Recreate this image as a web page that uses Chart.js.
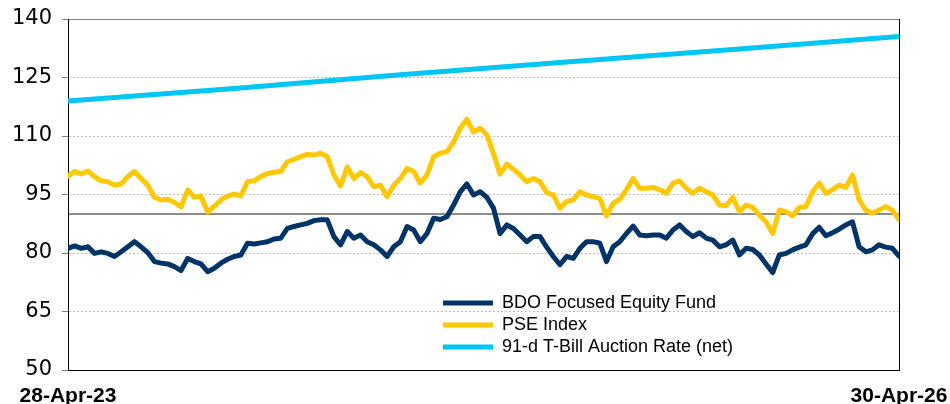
<!DOCTYPE html>
<html>
<head>
<meta charset="utf-8">
<script src="https://cdn.jsdelivr.net/npm/chart.js@4.4.1/dist/chart.umd.min.js"></script>
<style>
  html, body { margin: 0; padding: 0; background: #ffffff; }
  #wrap { width: 950px; height: 404px; }
</style>
</head>
<body>
<div id="wrap"><canvas id="c" width="950" height="404"></canvas></div>
<script>
// ---- data ----
const xTickLabels = ['28-Apr-23', '30-Apr-26'];
const seriesNames = ['BDO Focused Equity Fund', 'PSE Index', '91-d T-Bill Auction Rate (net)'];

const bdoFund = [
  81.2, 81.8, 81.2, 81.6, 79.9, 80.3, 79.9, 79.1, 80.3, 81.6, 82.9, 81.6, 80.1, 77.8, 77.4, 77.2,
  76.5, 75.5, 78.6, 77.8, 77.2, 75.2, 76.1, 77.4, 78.4, 79.1, 79.5, 82.5, 82.3, 82.6, 82.9, 83.6,
  83.8, 86.3, 86.8, 87.2, 87.6, 88.3, 88.5, 88.5, 84.2, 82.1, 85.5, 83.8, 84.6, 82.9, 82.1, 80.8,
  79.1, 81.6, 82.9, 86.8, 85.9, 82.9, 85.0, 88.9, 88.6, 89.3, 92.3, 95.7, 97.7, 94.9, 95.7,
  94.3, 91.5, 85.0, 87.2, 86.3, 84.6, 82.9, 84.2, 84.2, 81.5, 79.1, 77.0, 79.1, 78.6, 81.2, 82.9,
  82.9, 82.5, 77.8, 81.6, 82.9, 85.0, 86.9, 84.6, 84.4, 84.6, 84.6, 83.8, 85.9, 87.2, 85.5, 84.2,
  85.2, 83.8, 83.3, 81.6, 82.1, 83.3, 79.5, 81.2, 80.9, 79.5, 77.2, 75.0, 79.5, 79.9, 80.8, 81.5,
  82.1, 84.9, 86.6, 84.4, 85.2, 86.1, 87.2, 88.0, 81.6, 80.3, 80.8, 82.1, 81.5, 81.2, 79.2
];

const pseIndex = [
  99.7, 100.9, 100.3, 101.0, 99.6, 98.5, 98.3, 97.4, 97.7, 99.6, 100.9, 99.1, 97.4, 94.3, 93.6, 93.8,
  93.0, 91.8, 96.2, 94.3, 94.6, 90.5, 92.0, 93.6, 94.6, 95.1, 94.6, 98.3, 98.5, 99.6, 100.4, 100.7,
  100.9, 103.4, 104.0, 104.7, 105.3, 105.1, 105.6, 104.7, 100.0, 97.2, 102.1, 99.1, 100.6, 99.6, 97.0, 97.4,
  94.4, 97.4, 99.1, 101.7, 100.9, 97.9, 100.0, 104.7, 105.6, 106.0, 108.5, 112.0, 114.3, 111.0, 112.0,
  110.3, 105.5, 100.2, 102.8, 101.5, 100.0, 98.3, 99.1, 98.3, 95.5, 94.9, 91.5, 93.2, 93.6, 95.7, 94.9,
  94.4, 94.0, 89.5, 92.7, 93.8, 96.2, 99.1, 96.6, 96.6, 96.8, 96.2, 95.3, 97.9, 98.5, 96.6, 95.3,
  96.6, 95.7, 94.9, 92.3, 92.1, 94.3, 90.6, 92.3, 91.7, 89.7, 88.0, 85.0, 91.0, 90.6, 89.5, 91.7,
  91.9, 95.7, 97.9, 95.3, 96.2, 97.4, 96.8, 100.0, 93.6, 91.0, 90.2, 91.0, 91.9, 91.0, 88.6
];

const tbillIdx  = [0, 25, 50, 75, 100, 125];
const tbillVals = [119.0, 122.2, 125.7, 129.0, 132.2, 135.5];

const referenceLevel = 90;
const yMin = 50, yMax = 140, yStep = 15;

// ---- build ----
const lastIdx = bdoFund.length - 1;
const toXY = arr => arr.map((v, i) => ({ x: i, y: v }));

const FONT = "'Liberation Sans', Arial, Helvetica, sans-serif";

const legendPlacer = {
  id: 'legendPlacer',
  afterLayout(chart) {
    const lg = chart.legend;
    if (!lg) return;
    const ca = chart.chartArea;
    const w = lg.width, h = lg.height;
    lg.left = ca.left + 371;
    lg.top = ca.top + 271;
    lg.right = lg.left + w;
    lg.bottom = lg.top + h;
    if (lg.adjustHitBoxes) lg.adjustHitBoxes();
  }
};

const lineStyle = color => ({
  borderColor: color,
  backgroundColor: color,
  borderWidth: 5,
  borderCapStyle: 'round',
  borderJoinStyle: 'round',
  pointRadius: 0,
  tension: 0
});

new Chart(document.getElementById('c'), {
  type: 'line',
  data: {
    datasets: [
      Object.assign({ label: seriesNames[0], data: toXY(bdoFund) }, lineStyle('#003466')),
      Object.assign({ label: seriesNames[1], data: toXY(pseIndex) }, lineStyle('#FFC800')),
      Object.assign({ label: seriesNames[2], data: tbillIdx.map((x, i) => ({ x: x, y: tbillVals[i] })) }, lineStyle('#00C6F4')),
      {
        label: 'ref',
        data: [{ x: 0, y: referenceLevel }, { x: lastIdx, y: referenceLevel }],
        borderColor: '#1a1a1a',
        borderWidth: 1,
        pointRadius: 0,
        tension: 0
      }
    ]
  },
  options: {
    responsive: false,
    animation: false,
    devicePixelRatio: 1,
    layout: { padding: { top: 19, right: 51, bottom: 0, left: 0 } },
    plugins: {
      tooltip: { enabled: false },
      legend: {
        display: true,
        position: 'chartArea',
        align: 'start',
        labels: {
          usePointStyle: true,
          pointStyle: 'line',
          pointStyleWidth: 50,
          boxWidth: 50,
          padding: 4,
          color: '#000000',
          font: { family: FONT, size: 18 },
          filter: item => item.datasetIndex < 3
        }
      }
    },
    scales: {
      x: {
        type: 'linear',
        min: 0,
        max: lastIdx,
        afterBuildTicks: scale => { scale.ticks = [{ value: 0 }, { value: lastIdx }]; },
        afterFit: scale => {
          scale.height = 34;
          scale.paddingLeft = 0;
          scale.paddingRight = 0;
        },
        ticks: {
          autoSkip: false,
          maxRotation: 0,
          padding: 14,
          color: '#000000',
          font: { family: FONT, size: 21, weight: 'bold' },
          callback: value => (value === 0 ? xTickLabels[0] : xTickLabels[1])
        },
        grid: {
          drawTicks: false,
          lineWidth: 1,
          color: ctx => (ctx.tick && ctx.tick.value === lastIdx ? '#000000' : 'rgba(0,0,0,0)')
        },
        border: { display: true, color: '#000000', width: 1 }
      },
      y: {
        min: yMin,
        max: yMax,
        afterFit: scale => {
          scale.width = 68;
          scale.paddingTop = 0;
          scale.paddingBottom = 0;
        },
        ticks: {
          stepSize: yStep,
          padding: 10,
          color: '#000000',
          font: { family: "'DejaVu Sans', " + FONT, size: 21 }
        },
        grid: {
          drawTicks: true,
          tickLength: 6,
          tickColor: '#808080',
          lineWidth: 1,
          color: ctx => {
            const v = ctx.tick ? ctx.tick.value : null;
            if (v === yMin) return 'rgba(0,0,0,0)';
            if (v === yMax) return '#7f7f7f';
            return '#c0c0c0';
          }
        },
        border: {
          display: true,
          color: '#000000',
          width: 1,
          dash: ctx => (ctx.tick && ctx.tick.value === yMax ? [] : [2, 2])
        }
      }
    }
  },
  plugins: [legendPlacer]
});
</script>
</body>
</html>
